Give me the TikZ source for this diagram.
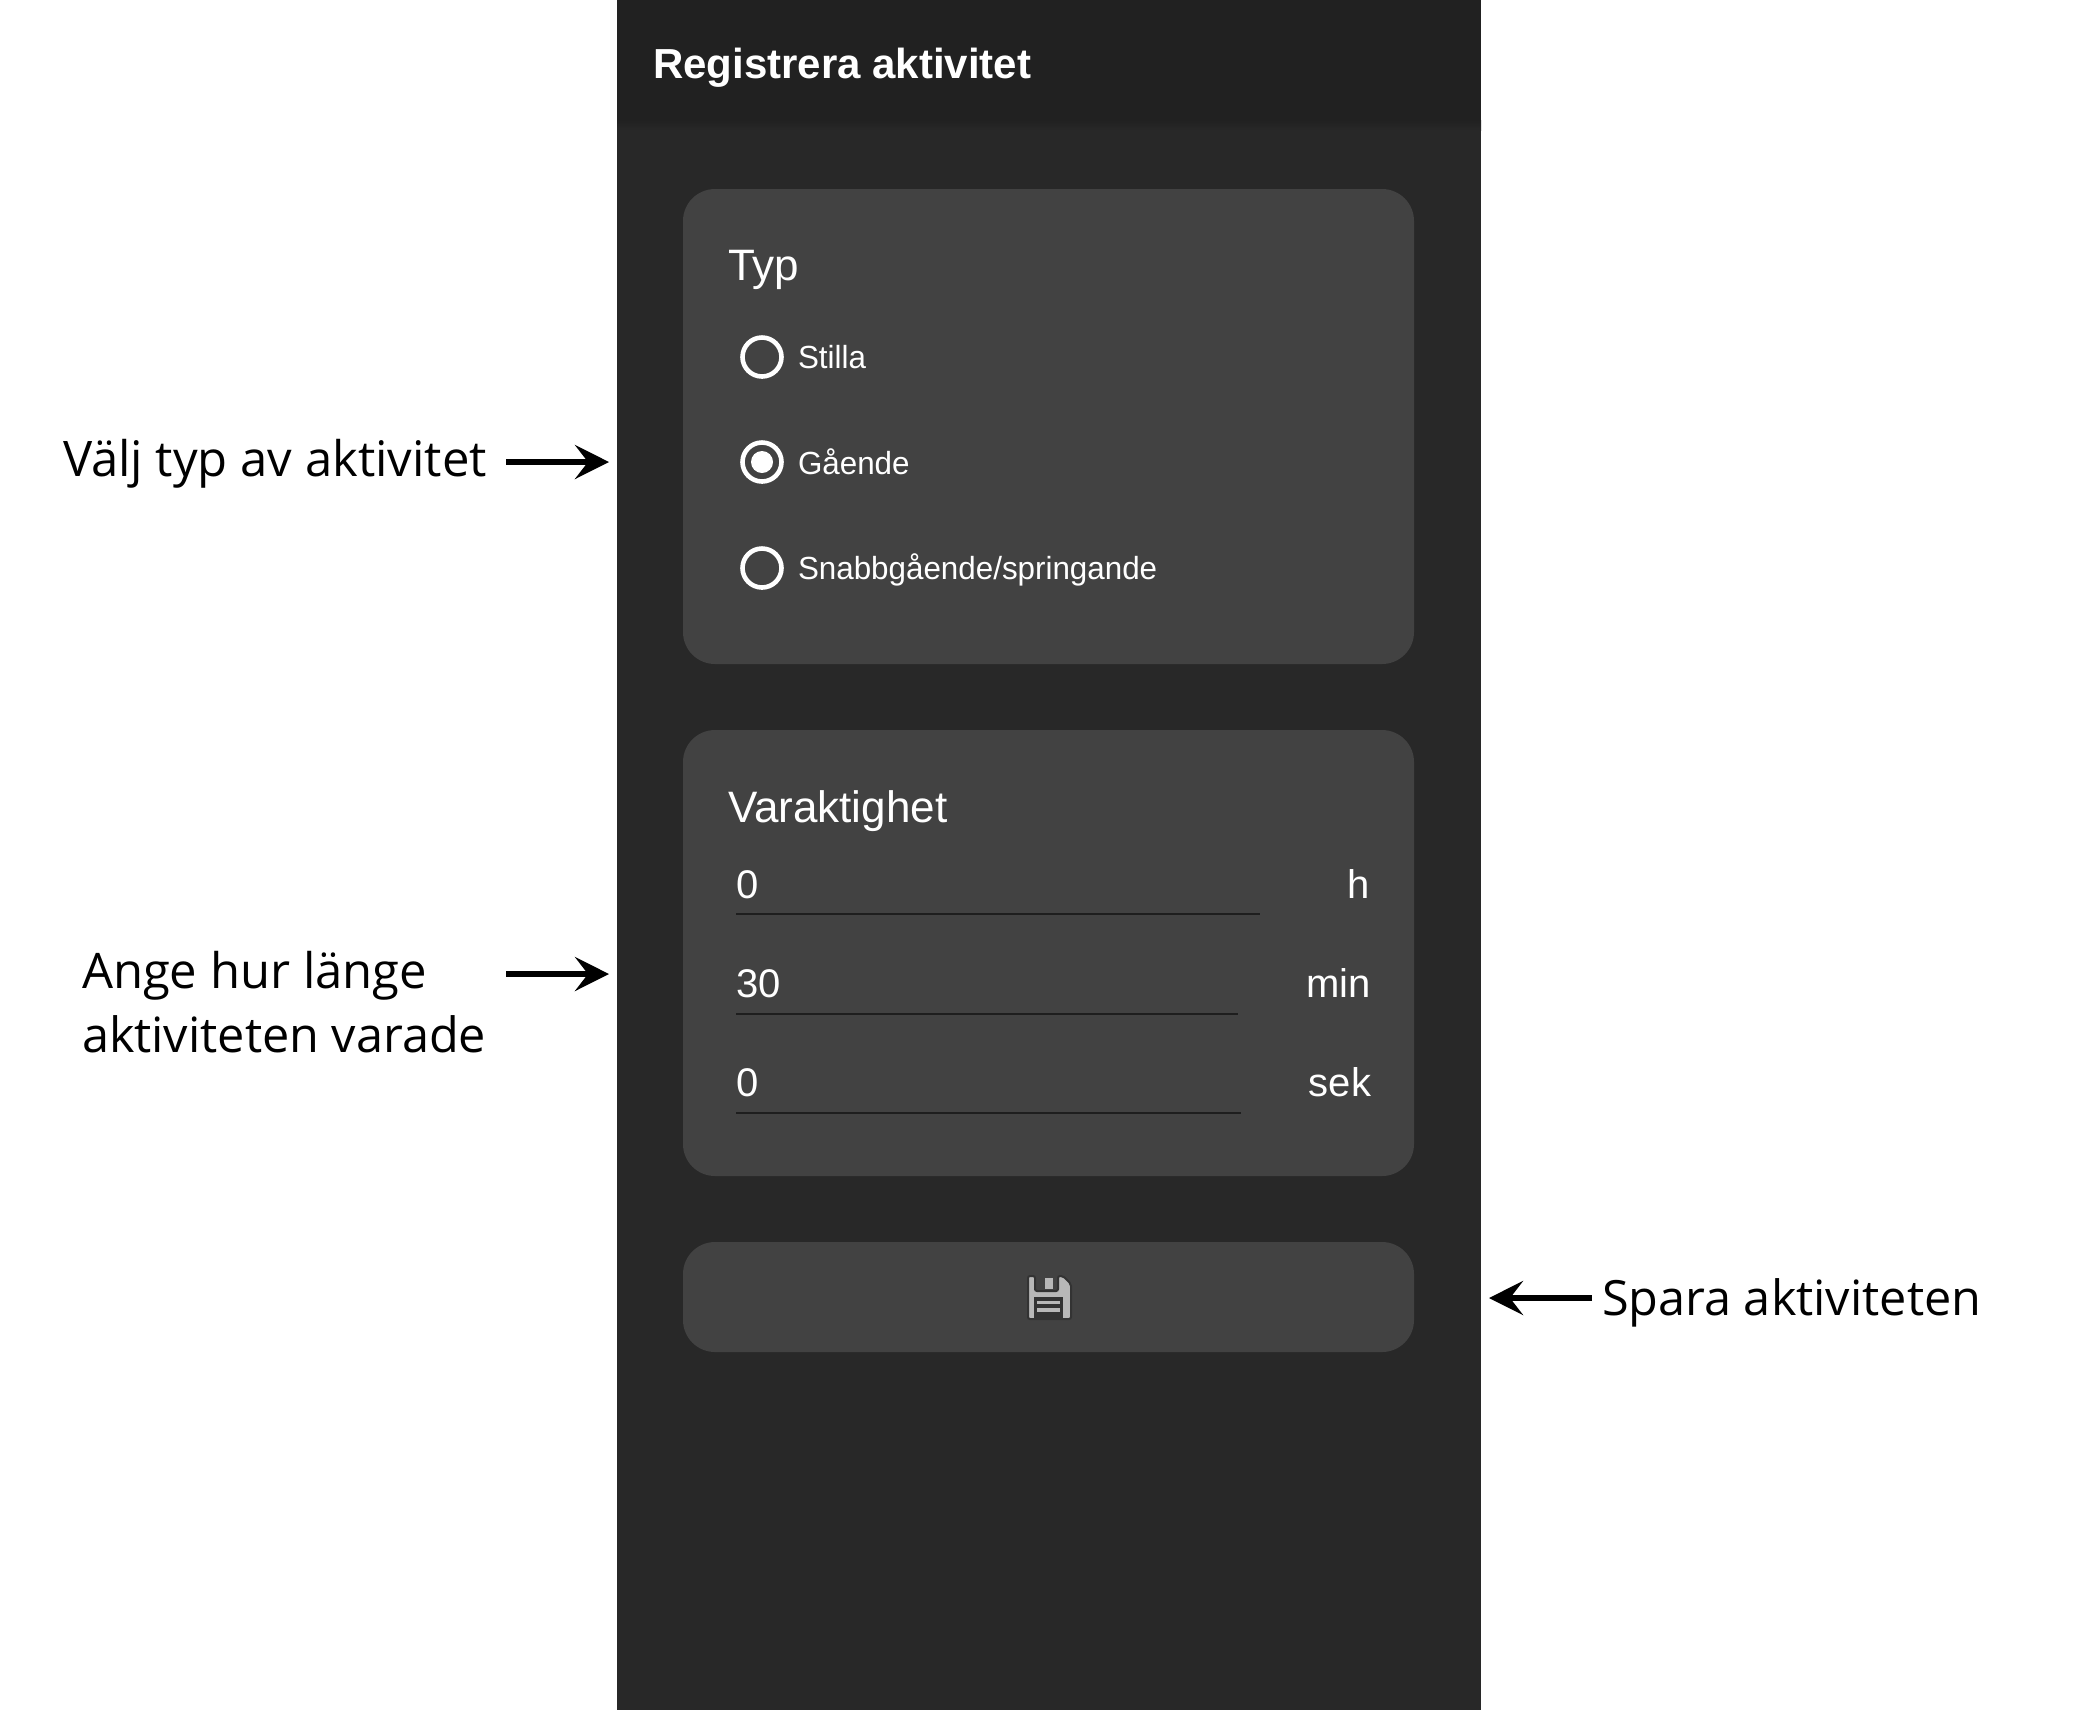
\documentclass[tikz,border=0pt]{standalone}
\usepackage{fontspec}
\setmainfont{Liberation Sans}
\newfontfamily\notefont{Open Sans}
\newfontfamily\optfont[FakeStretch=0.98]{Liberation Sans}
\usetikzlibrary{arrows.meta}
\definecolor{hdr}{HTML}{212121}
\definecolor{bodyc}{HTML}{282828}
\definecolor{cardc}{HTML}{424242}
\definecolor{iconc}{HTML}{B8B8B8}
\definecolor{linec}{HTML}{1E1E1E}
\definecolor{icond}{HTML}{333333}
\newcommand{\fsz}[1]{\fontsize{#1pt}{#1pt}\selectfont}
\tikzset{
 card/.style={fill=cardc,draw=none,rounded corners=16pt},
 apptext/.style={anchor=base west,text=white,inner sep=0pt,outer sep=0pt},
 appunit/.style={anchor=base east,text=white,inner sep=0pt,outer sep=0pt,font=\fsz{20}},
 cardtitle/.style={apptext,font=\fsz{22}},
 optlabel/.style={apptext,font=\optfont\fsz{16}},
 valtext/.style={apptext,font=\fsz{20}},
 note/.style={anchor=base west,text=black,inner sep=0pt,outer sep=0pt,font=\notefont\fsz{24.5}},
 notes/.style={note,font=\notefont\fsz{24.3}},
 radio/.style={draw=white,line width=2.3pt,circle,minimum size=19.5pt,inner sep=0pt,fill=none},
 underl/.style={draw=linec,line width=1.3pt},
 callout/.style={draw=black,line width=3pt,-{Stealth[length=17pt,width=17pt,inset=6.5pt]}},
}
\begin{document}
\begin{tikzpicture}[x=0.5pt,y=-0.5pt]
\useasboundingbox (0,0) rectangle (2098,1710);
\fill[white] (0,0) rectangle (2098,1710);
\fill[bodyc] (617,0) rectangle (1481,1710);
\fill[hdr] (617,0) rectangle (1481,120);
\shade[top color=hdr,bottom color=bodyc] (617,120) rectangle (1481,130);
\node[apptext,font=\bfseries\fsz{21}] (title) at (653,78) {Registrera aktivitet};
% cards
\fill[card] (683,189) rectangle (1414,664);
\fill[card] (683,730) rectangle (1414,1176);
\fill[card] (683,1242) rectangle (1414,1352);
% type card
\node[cardtitle] (typ) at (728,280) {Typ};
\node[radio] (r1) at (762,357) {};
\node[radio] (r2) at (762,462) {};
\node[radio] (r3) at (762,568) {};
\fill[white] (r2.center) circle (11);
\node[optlabel] (l1) at (798,368) {Stilla};
\node[optlabel] (l2) at (798,474) {Gående};
\node[optlabel] (l3) at (798,579) {Snabbgående/springande};
% duration card
\node[cardtitle] (var) at (728,822) {Varaktighet};
\node[valtext] (v1) at (736,898) {0};
\node[valtext] (v2) at (736,997) {30};
\node[valtext] (v3) at (736,1096) {0};
\node[appunit] (u1) at (1370,898) {h};
\node[appunit] (u2) at (1371,997) {min};
\node[appunit] (u3) at (1371,1096) {sek};
\draw[underl] (736,914) -- (1260,914);
\draw[underl] (736,1014) -- (1238,1014);
\draw[underl] (736,1113) -- (1241,1113);
% save icon
\filldraw[fill=iconc,draw=icond,line width=1pt,rounded corners=1pt]
 (1028,1276) -- (1035,1276) -- (1035,1291) -- (1058,1291) -- (1058,1276) -- (1063,1276) -- (1071,1284) -- (1071,1319) -- (1028,1319) -- cycle;
\fill[iconc] (1045,1278) rectangle (1053,1289);
\fill[icond] (1034,1297) rectangle (1063,1318);
\fill[iconc] (1037,1301) rectangle (1060,1304);
\fill[iconc] (1037,1308) rectangle (1060,1312);
% annotations
\node[note] (n1) at (63,476) {Välj typ av aktivitet};
\node[note] (n2) at (82,988) {Ange hur länge};
\node[notes] (n3) at (82,1052) {aktiviteten varade};
\node[notes] (n4) at (1602,1315) {Spara aktiviteten};
\coordinate (a1s) at (506,462); \coordinate (a1e) at (609,462);
\coordinate (a2s) at (506,974); \coordinate (a2e) at (609,974);
\coordinate (a3s) at (1592,1298); \coordinate (a3e) at (1489,1298);
\draw[callout] (a1s) -- (a1e);
\draw[callout] (a2s) -- (a2e);
\draw[callout] (a3s) -- (a3e);
\end{tikzpicture}
\end{document}
